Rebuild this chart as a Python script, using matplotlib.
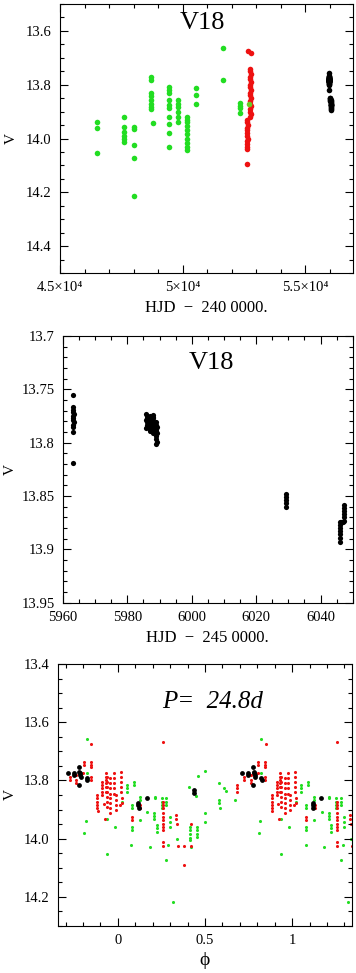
import matplotlib
matplotlib.use('Agg')
import matplotlib.pyplot as plt
from matplotlib.ticker import MultipleLocator
import numpy as np

plt.rcParams['font.family'] = ['Liberation Serif', 'DejaVu Serif']
plt.rcParams['mathtext.fontset'] = 'dejavuserif'

GREEN = '#22dd22'
RED = '#ee1111'

# ---- panel 1: V vs HJD - 2400000 (older photometry) ----
green_hjd = [46520, 46520, 46520,
             47610, 47610, 47610, 47610, 47610, 47610,
             48030, 48030, 48030, 48030, 48030,
             48710, 48710, 48710, 48710, 48710, 48710, 48710, 48710, 48800,
             49460, 49460, 49460, 49460, 49460, 49460, 49460, 49460, 49460, 49460,
             49820, 49820, 49820, 49820, 49820, 49820,
             50190, 50190, 50190, 50190, 50190, 50190, 50190, 50190, 50190, 50190,
             50540, 50540, 50540,
             51660, 51660,
             52330, 52330, 52330, 52330]
green_v = [13.937, 13.962, 14.055,
           13.921, 13.958, 13.975, 13.991, 14.002, 14.012,
           13.956, 13.966, 14.024, 14.074, 14.214,
           13.770, 13.782, 13.830, 13.842, 13.857, 13.870, 13.884, 13.892, 13.944,
           13.807, 13.819, 13.832, 13.857, 13.875, 13.888, 13.919, 13.946, 13.981, 14.031,
           13.857, 13.870, 13.884, 13.900, 13.919, 13.937,
           13.920, 13.930, 13.940, 13.955, 13.970, 13.985, 14.000, 14.015, 14.030, 14.043,
           13.813, 13.838, 13.873,
           13.665, 13.782,
           13.869, 13.880, 13.888, 13.906]
green_top_hjd = [52714]
green_top_v = [13.873]

red_hjd = [52650, 52800,
           52770, 52760, 52780, 52770, 52760, 52780, 52770, 52760, 52780, 52770,
           52760, 52780, 52770, 52760, 52780, 52770, 52760, 52780, 52770,
           52640, 52620, 52650, 52630, 52610, 52640, 52620, 52650, 52630, 52610,
           52640, 52620, 52610]
red_v = [13.673, 13.681,
         13.740, 13.750, 13.760, 13.770, 13.780, 13.790, 13.800, 13.810, 13.820, 13.830,
         13.840, 13.850, 13.860, 13.870, 13.880, 13.890, 13.900, 13.910, 13.920,
         13.930, 13.940, 13.950, 13.960, 13.970, 13.980, 13.990, 14.000, 14.010, 14.020,
         14.030, 14.040, 14.095]

# ---- panel 2: recent photometry, HJD - 2450000 ----
new_hjd = [5963.1, 5963.0, 5963.2, 5963.1, 5963.3, 5963.0, 5963.2, 5963.1, 5963.3,
           5963.0, 5963.2, 5963.1, 5963.1,
           5985.9, 5986.0, 5986.1, 5985.9, 5986.0, 5986.1, 5986.0, 5985.9,
           5986.9, 5987.0, 5987.1, 5986.9, 5987.0, 5987.1, 5987.0, 5986.9, 5987.1,
           5987.9, 5988.0, 5988.1, 5987.9, 5988.0, 5988.1, 5988.0, 5987.9, 5988.1,
           5988.9, 5989.0, 5989.1, 5988.9, 5989.0, 5989.1, 5989.0, 5988.9, 5989.1, 5989.0,
           6029.2, 6029.2, 6029.2, 6029.2, 6029.2,
           6046.0, 6046.0, 6046.0, 6046.0, 6046.0, 6046.0, 6046.0, 6046.5, 6047.0,
           6047.4, 6047.4, 6047.4, 6047.4, 6047.4, 6047.4]
new_v = [13.755, 13.767, 13.769, 13.771, 13.773, 13.775, 13.777, 13.779, 13.781,
         13.783, 13.785, 13.790, 13.819,
         13.773, 13.775, 13.777, 13.779, 13.781, 13.783, 13.785, 13.786,
         13.775, 13.777, 13.779, 13.781, 13.783, 13.785, 13.787, 13.789, 13.776,
         13.774, 13.777, 13.780, 13.782, 13.784, 13.786, 13.788, 13.791, 13.776,
         13.781, 13.783, 13.785, 13.787, 13.789, 13.791, 13.794, 13.797, 13.799, 13.801,
         13.848, 13.851, 13.854, 13.857, 13.860,
         13.874, 13.877, 13.880, 13.883, 13.886, 13.889, 13.893, 13.874, 13.874,
         13.858, 13.861, 13.864, 13.867, 13.870, 13.873]

# ---- panel 3: phased light curve, P = 24.8 d ----
ph_green = [-0.178, -0.178, -0.184, -0.192, -0.061, -0.017, -0.061,
            0.025, 0.050, 0.050, 0.050, 0.092, 0.092, 0.082, 0.082, 0.082, 0.082, 0.078,
            0.126, 0.126, 0.126, 0.170, 0.184, 0.213, 0.213, 0.209, 0.209, 0.209,
            0.222, 0.222, 0.222, 0.251, 0.251, 0.251, 0.251, 0.279, 0.279, 0.279,
            0.298, 0.298, 0.298, 0.289, 0.279, 0.318, 0.337,
            0.408, 0.446, 0.461, 0.499, 0.499, 0.499,
            0.413, 0.413, 0.413, 0.413, 0.413, 0.419, 0.452, 0.452, 0.452, 0.452,
            0.580, 0.610, 0.618, 0.580, 0.580, 0.586, 0.672]
v_green = [13.658, 13.776, 13.939, 13.979, 13.934, 13.959, 14.053,
           13.873, 13.816, 13.827, 13.839, 13.805, 13.816, 13.885, 13.896, 13.959, 13.971, 14.022,
           13.856, 13.868, 13.936, 13.910, 14.028, 13.856, 13.862, 13.913, 13.923, 13.934,
           13.953, 13.965, 13.976, 13.862, 13.873, 13.885, 13.896, 13.862, 13.873, 13.885,
           13.925, 13.942, 13.959, 14.022, 14.074, 14.217, 14.001,
           13.824, 13.852, 13.784, 13.769, 13.913, 13.942,
           13.959, 13.971, 13.985, 13.999, 14.005, 14.030, 13.959, 13.971, 13.985, 13.996,
           13.808, 13.827, 13.836, 13.868, 13.877, 13.893, 13.868]

ph_red = [-0.152, -0.193, -0.193, -0.155, -0.155, -0.155,
          -0.276, -0.276, -0.237, -0.237, -0.237, -0.197, -0.155, -0.155,
          0.684, 0.684, 0.684,
          -0.118, -0.118, -0.118, -0.118, -0.118, -0.114,
          -0.089, -0.089, -0.089, -0.089, -0.089, -0.080, -0.076,
          -0.070, -0.070, -0.070, -0.070, -0.070, -0.070,
          -0.061, -0.061, -0.061, -0.061, -0.061, -0.061, -0.061,
          -0.042, -0.042, -0.042, -0.042, -0.042, -0.042, -0.042, -0.042,
          -0.022, -0.022, -0.022, -0.022, -0.022,
          -0.013, -0.013, -0.013, -0.013,
          0.016, 0.016, 0.016, 0.016, 0.016, 0.022, 0.022, 0.011,
          0.260, 0.082, 0.082, 0.130, 0.130,
          0.260, 0.260, 0.260, 0.260, 0.260, 0.260, 0.260, 0.260, 0.260, 0.260, 0.260,
          0.333, 0.333, 0.337, 0.419, 0.343, 0.379, 0.419, 0.379]
v_red = [13.676, 13.736, 13.747, 13.736, 13.747, 13.755,
         13.787, 13.797, 13.782, 13.797, 13.810, 13.776, 13.787, 13.800,
         13.816, 13.827, 13.839,
         13.850, 13.862, 13.873, 13.885, 13.896, 13.905,
         13.805, 13.816, 13.827, 13.839, 13.850, 13.881, 13.934,
         13.776, 13.787, 13.799, 13.810, 13.822, 13.839,
         13.787, 13.805, 13.822, 13.839, 13.856, 13.873, 13.890,
         13.793, 13.810, 13.827, 13.845, 13.862, 13.879, 13.896, 13.913,
         13.776, 13.793, 13.810, 13.827, 13.845,
         13.850, 13.868, 13.885, 13.902,
         13.770, 13.787, 13.805, 13.822, 13.839, 13.862, 13.879, 13.885,
         13.669, 13.927, 13.936, 13.885, 13.896,
         13.873, 13.885, 13.896, 13.913, 13.925, 13.936, 13.948, 13.959, 13.971, 14.010, 14.026,
         13.919, 13.931, 13.951, 13.950, 14.026, 14.026, 14.026, 14.091]

ph_black = [-0.285, -0.253, -0.253, -0.224, -0.220, -0.218, -0.215, -0.212, -0.224,
            -0.178, -0.175, 0.117, 0.117, 0.120, 0.165, 0.436, 0.436]
v_black = [13.776, 13.776, 13.782, 13.753, 13.770, 13.776, 13.782, 13.787, 13.816,
           13.793, 13.797, 13.879, 13.885, 13.893, 13.862, 13.833, 13.842]

hjd1_ticks = [45000, 50000, 55000]
hjd1_labels = ['4.5×10⁴', '5×10⁴', '5.5×10⁴']


def style(ax, xmaj, xmin, ymaj, ymin):
    ax.xaxis.set_major_locator(MultipleLocator(xmaj))
    ax.xaxis.set_minor_locator(MultipleLocator(xmin))
    ax.yaxis.set_major_locator(MultipleLocator(ymaj))
    ax.yaxis.set_minor_locator(MultipleLocator(ymin))
    ax.tick_params(which='both', direction='in', top=True, right=True,
                   labelsize=10.5, width=0.8, pad=6)
    ax.tick_params(which='major', length=5.5)
    ax.tick_params(which='minor', length=3)
    for s in ax.spines.values():
        s.set_linewidth(0.8)


fig = plt.figure(figsize=(3.56, 9.73), dpi=100)

# panel 1
ax1 = fig.add_axes([0.1685, 0.7194, 0.823, 0.2765])
ax1.scatter(green_hjd, green_v, s=16, c=GREEN, linewidths=0)
ax1.scatter(red_hjd, red_v, s=16, c=RED, linewidths=0)
ax1.scatter(green_top_hjd, green_top_v, s=16, c='#66cc22', linewidths=0)
ax1.scatter(np.array(new_hjd) + 50000, new_v, s=16, c='black', linewidths=0)
ax1.set_xlim(45000, 56950)
ax1.set_ylim(14.5, 13.5)
style(ax1, 5000, 1000, 0.2, 0.05)
ax1.set_xticks(hjd1_ticks)
ax1.set_xticklabels(hjd1_labels)
ax1.set_xlabel('HJD  −  240 0000.', fontsize=12, labelpad=4)
ax1.set_ylabel('V', fontsize=11)
ax1.yaxis.set_label_coords(-0.145, 0.5)
ax1.text(0.485, 0.93, 'V18', transform=ax1.transAxes, ha='center', va='center', fontsize=19)

# panel 2
ax2 = fig.add_axes([0.177, 0.3806, 0.8138, 0.2741])
ax2.scatter(new_hjd, new_v, s=14, c='black', linewidths=0)
ax2.set_xlim(5960, 6050)
ax2.set_ylim(13.95, 13.7)
style(ax2, 20, 5, 0.05, 0.01)
ax2.set_yticks([13.7, 13.75, 13.8, 13.85, 13.9, 13.95])
ax2.set_yticklabels(['13.7', '13.75', '13.8', '13.85', '13.9', '13.95'])
ax2.set_xlabel('HJD  −  245 0000.', fontsize=12, labelpad=4)
ax2.set_ylabel('V', fontsize=11)
ax2.yaxis.set_label_coords(-0.16, 0.5)
ax2.text(0.512, 0.898, 'V18', transform=ax2.transAxes, ha='center', va='center', fontsize=19)

# panel 3
ax3 = fig.add_axes([0.162, 0.0483, 0.8275, 0.2693])
for shift in (0, 1):
    ax3.scatter(np.array(ph_green) + shift, v_green, s=5, c=GREEN, linewidths=0)
    ax3.scatter(np.array(ph_red) + shift, v_red, s=5, c=RED, linewidths=0)
    ax3.scatter(np.array(ph_black) + shift, v_black, s=12, c='black', linewidths=0)
ax3.set_xlim(-0.345, 1.345)
ax3.set_ylim(14.3, 13.4)
style(ax3, 0.5, 0.1, 0.2, 0.05)
ax3.set_xticks([0, 0.5, 1])
ax3.set_xticklabels(['0', '0.5', '1'])
ax3.set_xlabel('ϕ', fontsize=14, labelpad=3)
ax3.set_ylabel('V', fontsize=11)
ax3.yaxis.set_label_coords(-0.14, 0.5)
ax3.text(0.525, 0.856, 'P=  24.8d', transform=ax3.transAxes, ha='center', va='center',
         fontsize=18, style='italic')

fig.savefig('out.png', dpi=100)
